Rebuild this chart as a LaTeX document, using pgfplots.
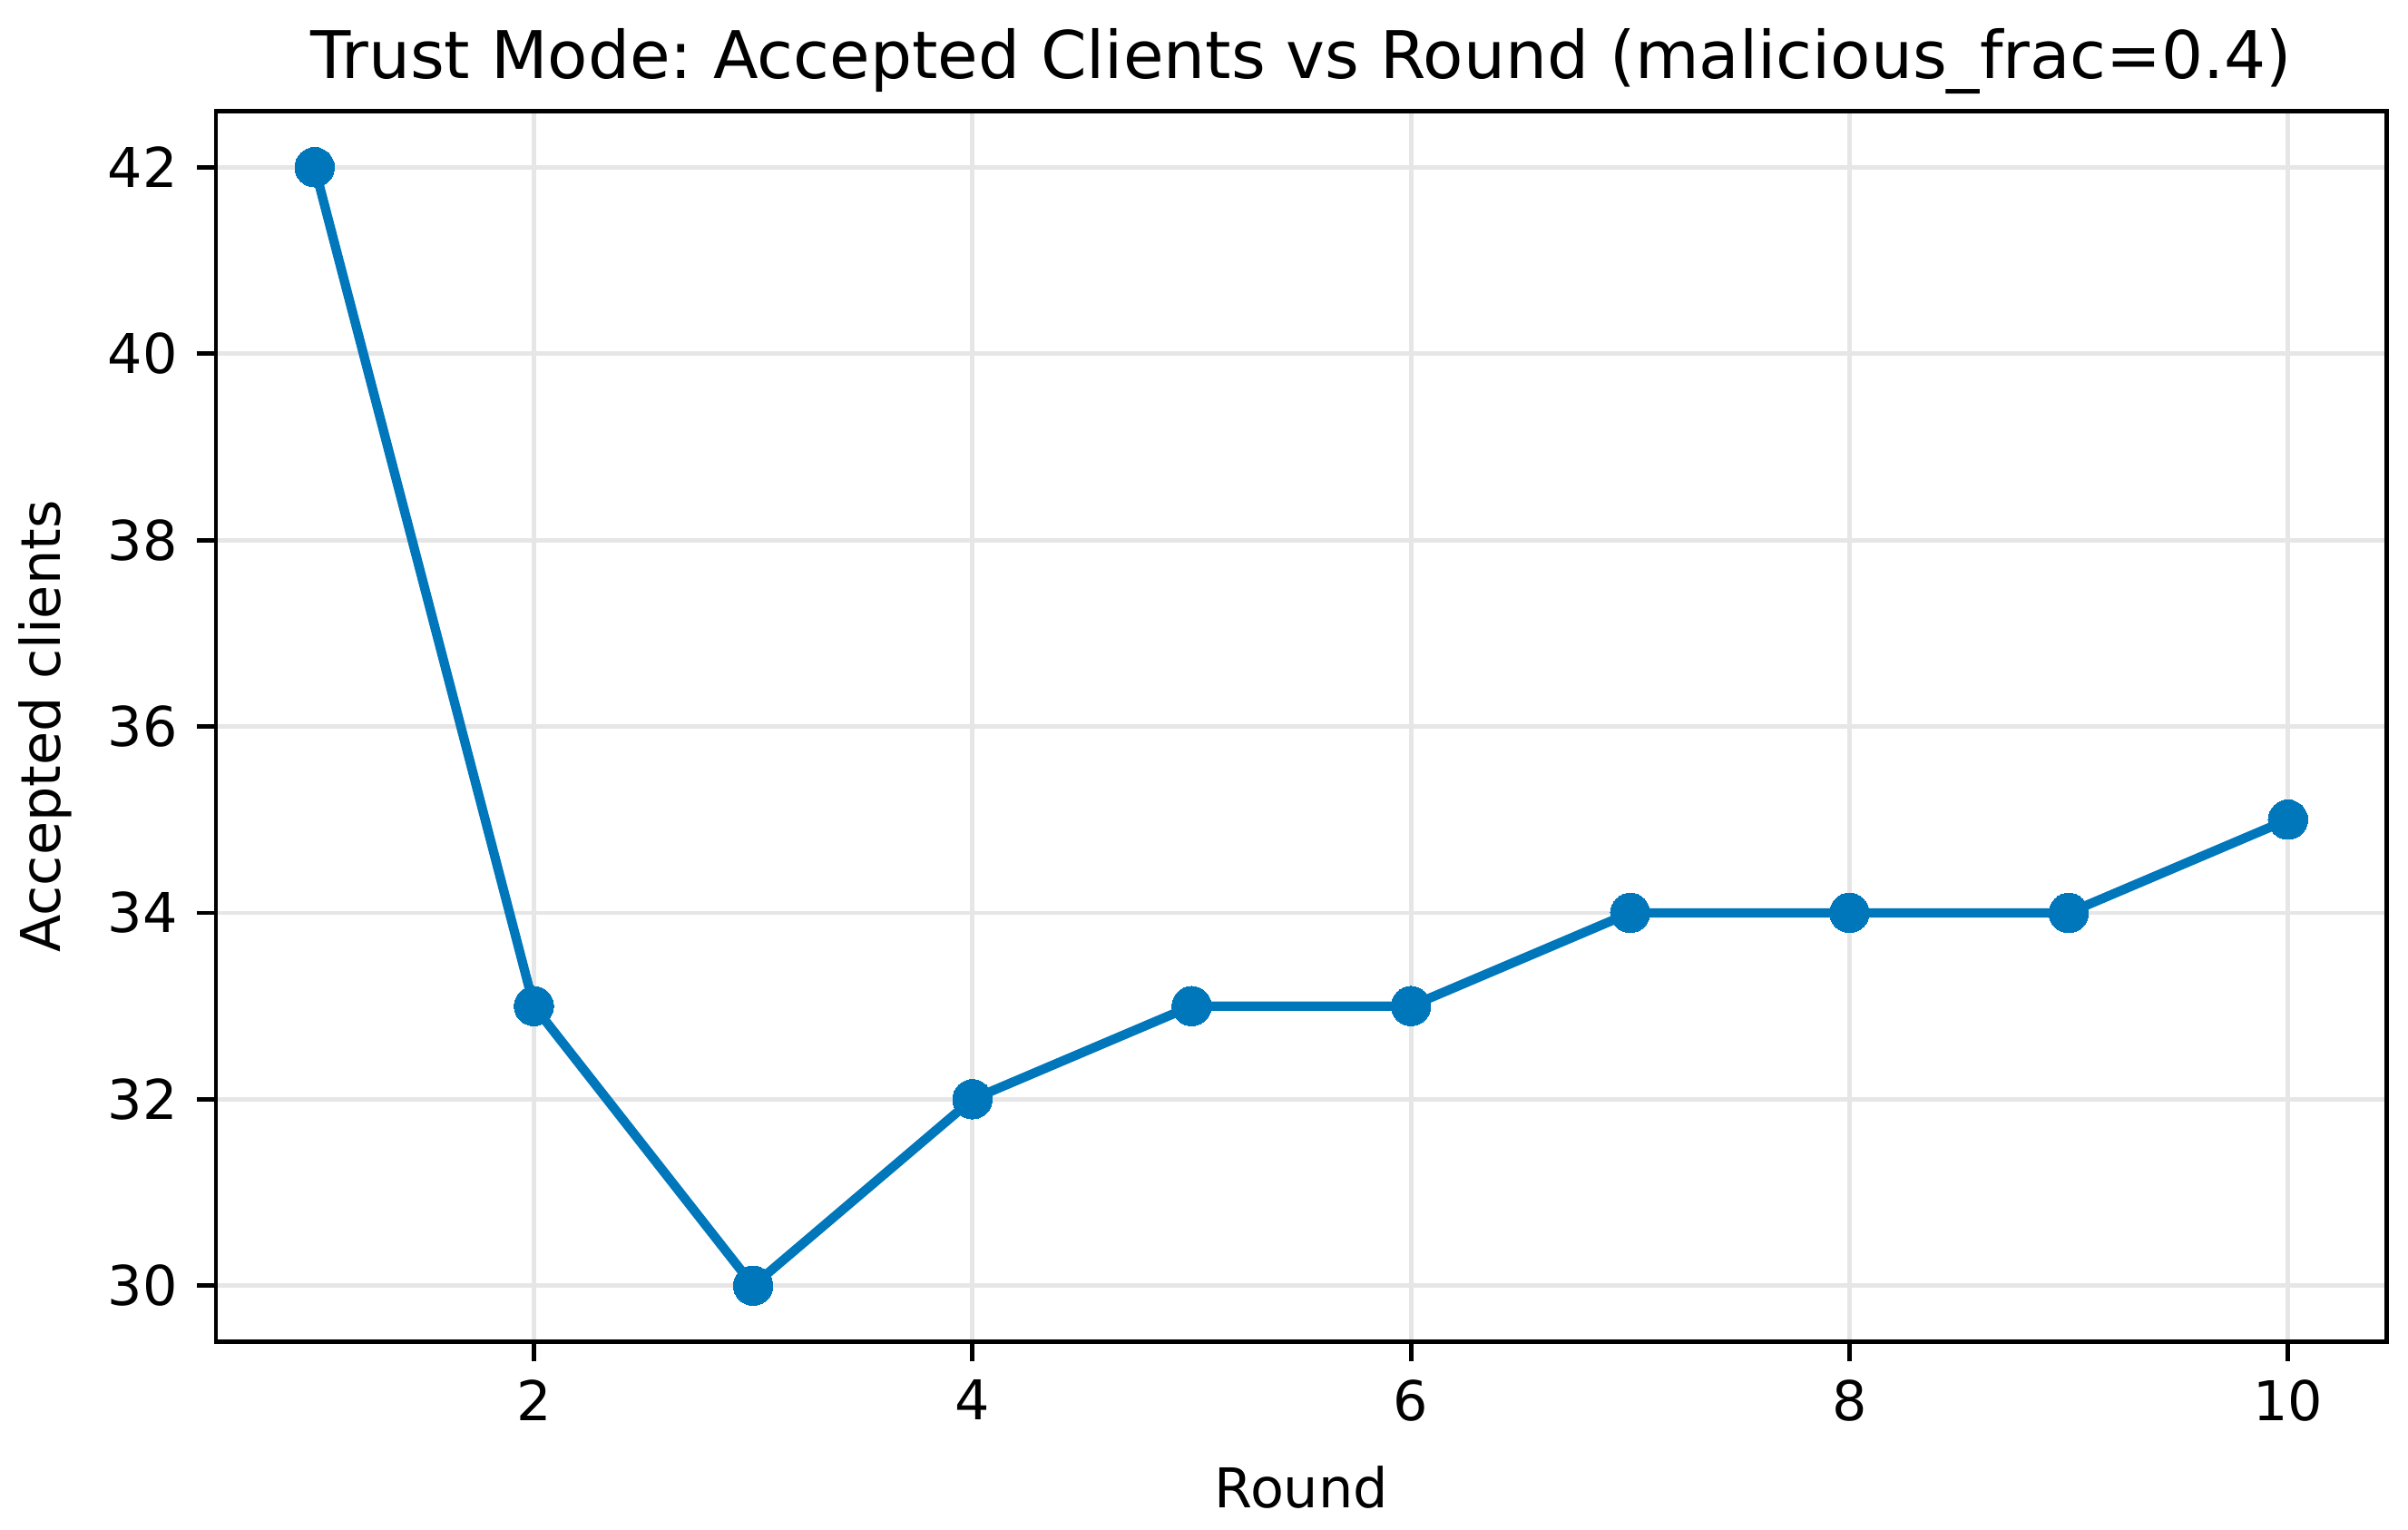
\documentclass[border=0pt]{standalone}
\usepackage{fontspec}
\setmainfont{DejaVu Sans}
\usepackage{pgfplots}
\pgfplotsset{compat=1.18}
\usetikzlibrary{calc}
\definecolor{lineblue}{HTML}{0077BB}
\definecolor{gridgray}{HTML}{E6E6E6}
\frenchspacing

\begin{document}
\begin{tikzpicture}
\begin{axis}[
    scale only axis,
    width=396pt, height=224.4pt,
    xmin=0.55, xmax=10.45,
    ymin=29.4, ymax=42.6,
    xtick={2,4,6,8,10},
    ytick={30,32,34,36,38,40,42},
    tick align=outside,
    tick pos=left,
    major tick length=3.5pt,
    every tick/.style={black, line width=0.8pt},
    axis line style={line width=0.8pt},
    grid=major,
    major grid style={gridgray, line width=0.8pt},
    /pgf/number format/assume math mode=true,
    tick label style={font=\fontsize{10}{12}\selectfont},
    title={Trust Mode: Accepted Clients vs Round (malicious\_frac=0.4)},
    title style={font=\fontsize{12}{14}\selectfont, at={(axis description cs:0.5,1)}, anchor=south, yshift=-6.4pt},
    xlabel={Round},
    ylabel={Accepted clients},
    every axis x label/.style={font=\fontsize{10}{12}\selectfont, at={(axis description cs:0.5,0)}, anchor=center, yshift=-26.5pt},
    every axis y label/.style={font=\fontsize{10}{12}\selectfont, at={(axis description cs:-0.0785,0.5)}, rotate=90, anchor=center},
]
\addplot[color=lineblue, line width=1.7pt, mark=*, mark size=3.6pt,
         mark options={fill=lineblue, draw=lineblue, line width=0pt}]
coordinates {
    (1,42) (2,33) (3,30) (4,32) (5,33)
    (6,33) (7,34) (8,34) (9,34) (10,35)
};
\end{axis}
\pgfresetboundingbox
\path[use as bounding box] ($(current axis.south west)+(-39.4pt,-34.2pt)$) rectangle ($(current axis.north east)+(3.9pt,20.3pt)$);
\end{tikzpicture}
\end{document}
